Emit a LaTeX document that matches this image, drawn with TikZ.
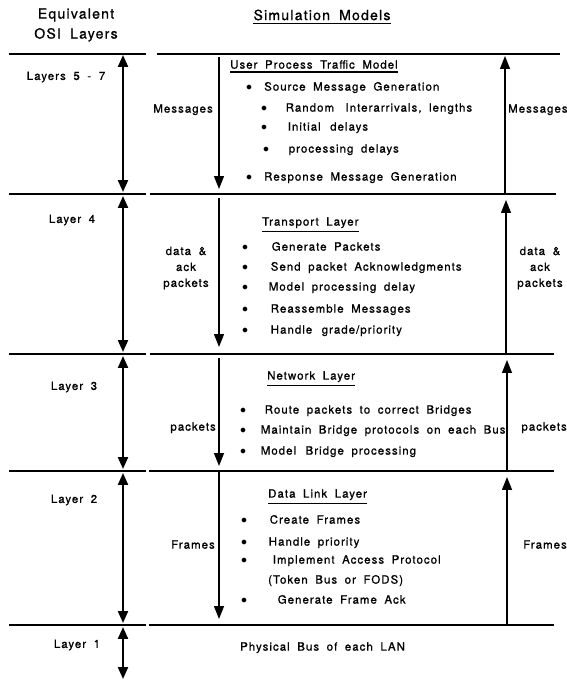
\documentclass[tikz,border=0pt]{standalone}
\usepackage{fontspec}
\setmainfont[LetterSpace=9,WordSpace=1.8,FakeBold=1]{TeX Gyre Heros}
\usetikzlibrary{arrows.meta,positioning}

\tikzset{
  head/.style={font=\fontsize{14}{20}\selectfont, inner sep=0pt},
  txt/.style={font=\fontsize{11.5}{16}\selectfont, inner sep=0pt},
  item/.style={txt, anchor=mid west},
  uline/.style={line width=1.6pt},
  rule/.style={line width=1.8pt},
  osi/.style={line width=2.2pt, {Triangle[width=10pt,length=12pt]}-{Triangle[width=10pt,length=12pt]}},
  flow/.style={line width=1.4pt, -{Triangle[width=10pt,length=13pt]}}
}
\newcommand{\bul}[1][18bp]{\makebox[#1][l]{$\bullet$}}

\begin{document}
\begin{tikzpicture}[x=1bp,y=-1bp]
  \useasboundingbox (0,0) rectangle (567,680);

  % Headings
  \node[head, align=center] (osi) at (76,25) {Equivalent\\OSI Layers};
  \node[head] (sim) at (322,15) {Simulation Models};
  \draw[uline] ([yshift=-3pt]sim.south west) -- ([yshift=-3pt]sim.south east);

  % Layer boundaries
  \draw[rule] (9,54) -- (146,54);   \draw[rule] (157,54) -- (560,54);
  \draw[rule] (9,194) -- (146,194); \draw[rule] (150,194) -- (556,194);
  \draw[rule] (9,354) -- (146,354); \draw[rule] (150,354) -- (554,354);
  \draw[rule] (9,471) -- (146,471); \draw[rule] (149,471) -- (554,471);
  \draw[rule] (9,625) -- (146,625); \draw[rule] (149,625) -- (554,625);

  % Arrow ends
  \coordinate (L1t) at (123,55);  \coordinate (L1b) at (123,192);
  \coordinate (L2t) at (123,196); \coordinate (L2b) at (123,352);
  \coordinate (L3t) at (123,356); \coordinate (L3b) at (123,469);
  \coordinate (L4t) at (123,473); \coordinate (L4b) at (123,623);
  \coordinate (L5t) at (123,627); \coordinate (L5b) at (123,679);
  \coordinate (M1t) at (219,57);  \coordinate (M1b) at (219,189);
  \coordinate (M2t) at (219,198); \coordinate (M2b) at (219,347);
  \coordinate (M3t) at (219,358); \coordinate (M3b) at (219,466);
  \coordinate (M4t) at (219,471); \coordinate (M4b) at (219,619);
  \coordinate (R1t) at (505,56);  \coordinate (R1b) at (505,194);
  \coordinate (R2t) at (506,200); \coordinate (R2b) at (506,354);
  \coordinate (R3t) at (507,360); \coordinate (R3b) at (507,470);
  \coordinate (R4t) at (507,477); \coordinate (R4b) at (507,624);

  % OSI layers
  \node[txt] (l57) at (66,77)  {Layers 5 - 7};
  \node[txt] (l4)  at (72,220) {Layer 4};
  \node[txt] (l3)  at (74,387) {Layer 3};
  \node[txt] (l2)  at (74,500) {Layer 2};
  \node[txt] (l1)  at (77,645) {Layer 1};
  \draw[osi] (L1t) -- (L1b);
  \draw[osi] (L2t) -- (L2b);
  \draw[osi] (L3t) -- (L3b);
  \draw[osi] (L4t) -- (L4b);
  \draw[osi] (L5t) -- (L5b);

  % Flows down and up
  \draw[flow] (M1t) -- (M1b);
  \draw[flow] (M2t) -- (M2b);
  \draw[flow] (M3t) -- (M3b);
  \draw[flow] (M4t) -- (M4b);
  \draw[flow] (R1b) -- (R1t);
  \draw[flow] (R2b) -- (R2t);
  \draw[flow] (R3b) -- (R3t);
  \draw[flow] (R4b) -- (R4t);
  \node[txt, anchor=mid east] (msgd) at (213,110) {Messages};
  \node[txt, align=center] (ackd) at (186,268) {data \&\\ack\\packets};
  \node[txt, anchor=mid east] (pktd) at (216,428) {packets};
  \node[txt, anchor=mid east] (frmd) at (215,546) {Frames};
  \node[txt, anchor=mid west] (msgu) at (508,110) {Messages};
  \node[txt, align=center] (acku) at (540,268) {data \&\\ack\\packets};
  \node[txt, anchor=mid east] (pktu) at (567,428) {packets};
  \node[txt, anchor=mid east] (frmu) at (567,546) {Frames};

  % User process traffic model
  \node[item] (upt) at (230,66) {User Process Traffic Model};
  \draw[uline] ([yshift=-3pt]upt.south west) -- ([yshift=-3pt]upt.south east);
  \node[item] (u1) at (246,88)  {\bul Source Message Generation};
  \node[item] (u2) at (261,109) {\bul[17bp] Random\quad Interarrivals, lengths};
  \node[item] (u3) at (261,128) {\bul[19bp] Initial\, delays};
  \node[item] (u4) at (263,150) {\bul[18bp] processing delays};
  \node[item] (u5) at (246,178) {\bul Response Message Generation};

  % Transport layer
  \node[item] (tpt) at (262,223) {Transport Layer};
  \draw[uline] ([yshift=-3pt]tpt.south west) -- ([yshift=-3pt]tpt.south east);
  \node[item] (t1) at (242,248) {\bul[22bp] Generate Packets};
  \node[item] (t2) at (242,268) {\bul[21bp] Send packet Acknowledgments};
  \node[item] (t3) at (242,288) {\bul[19bp] Model processing delay};
  \node[item] (t4) at (242,310) {\bul[21bp] Reassemble Messages};
  \node[item] (t5) at (242,331) {\bul[21bp] Handle\, grade/priority};

  % Network layer
  \node[item] (nwt) at (267,377) {Network Layer};
  \draw[uline] ([yshift=-3pt]nwt.south west) -- ([yshift=-3pt]nwt.south east);
  \node[item] (n1) at (240,411) {\bul[17bp] Route packets to correct Bridges};
  \node[item] (n2) at (240,431) {\bul[13bp] Maintain Bridge protocols on each Bus};
  \node[item] (n3) at (240,452) {\bul[13bp] Model\, Bridge processing};

  % Data link layer
  \node[item] (dlt) at (268,495) {Data Link Layer};
  \draw[uline] ([yshift=-3pt]dlt.south west) -- ([yshift=-3pt]dlt.south east);
  \node[item] (d1) at (241,521) {\bul[21bp] Create Frames};
  \node[item] (d2) at (241,543) {\bul[20bp] Handle priority};
  \node[item] (d3) at (241,561) {\bul[24bp] Implement Access Protocol};
  \node[item] (d4) at (268,581) {(Token Bus or FODS)};
  \node[item] (d5) at (241,601) {\bul[29bp] Generate Frame Ack};

  % Physical layer
  \node[item] (phy) at (240,648) {Physical Bus of each LAN};
\end{tikzpicture}
\end{document}
